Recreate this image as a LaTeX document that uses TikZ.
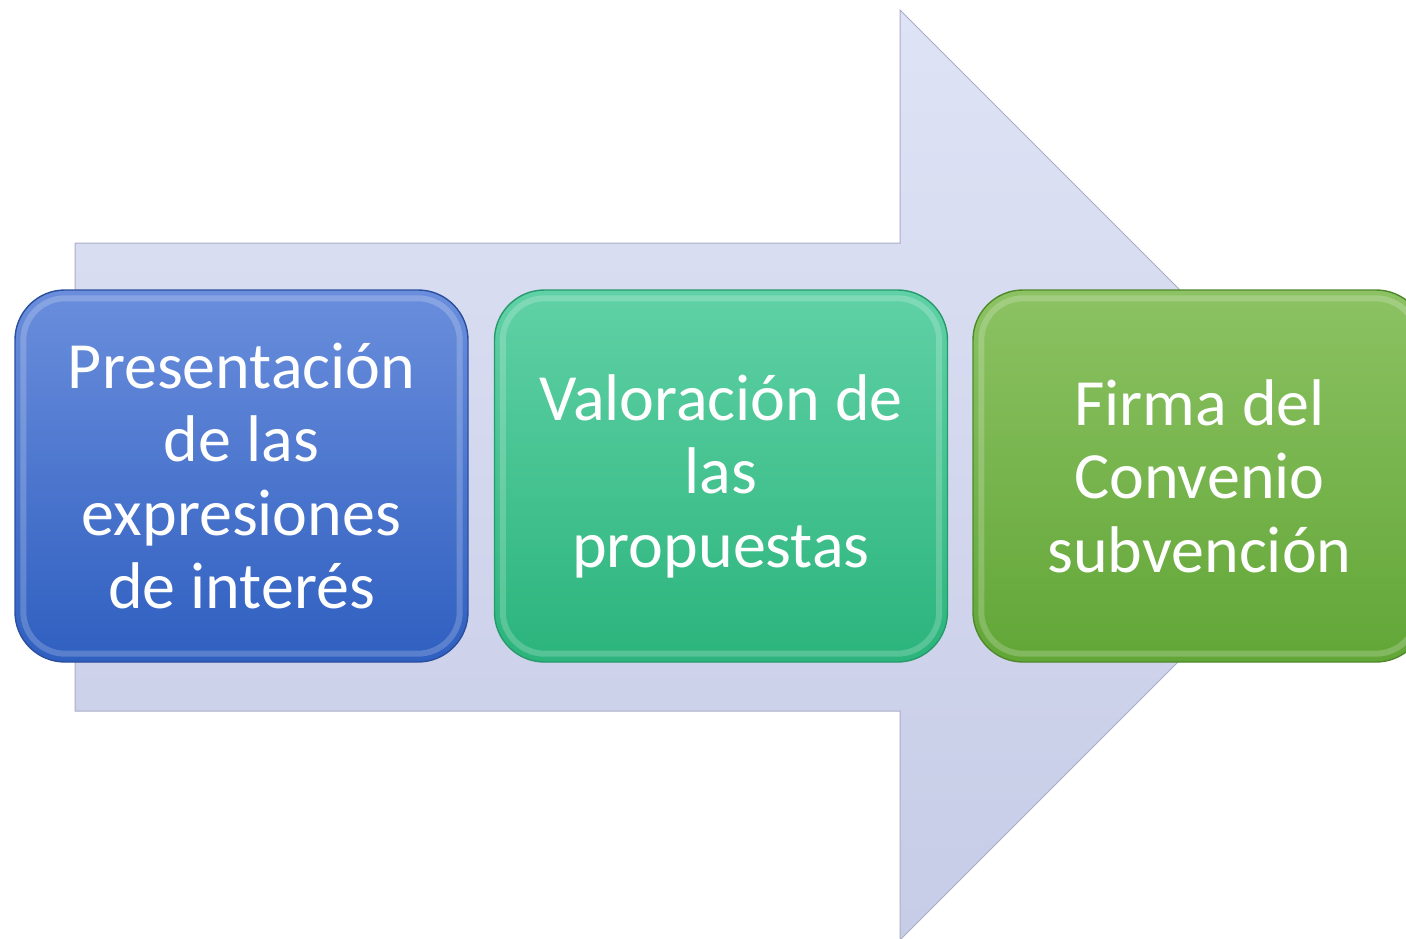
\documentclass[tikz,border=0pt]{standalone}
\usepackage{fontspec}
\setmainfont{Carlito}
\definecolor{arrtop}{HTML}{DEE3F5}
\definecolor{arrbot}{HTML}{C7CCE7}
\definecolor{arredge}{HTML}{A9AEC6}
\definecolor{bluetop}{HTML}{6A8EDC}
\definecolor{bluebot}{HTML}{2F5FC0}
\definecolor{blueedge}{HTML}{2A4F9E}
\definecolor{tealtop}{HTML}{60D1A6}
\definecolor{tealbot}{HTML}{2BB47C}
\definecolor{tealedge}{HTML}{279A6C}
\definecolor{greentop}{HTML}{8CC263}
\definecolor{greenbot}{HTML}{62A637}
\definecolor{greenedge}{HTML}{4E8A2B}
\begin{document}
\begin{tikzpicture}[x=1pt,y=-1pt,
  stepbox/.style={rounded corners=50pt, minimum width=453pt, minimum height=372pt,
    inner sep=0pt, line width=1.4pt, text=white, align=center,
    font=\fontsize{66}{73.5}\selectfont},
  bluebox/.style={top color=bluetop, bottom color=bluebot, draw=blueedge},
  tealbox/.style={top color=tealtop, bottom color=tealbot, draw=tealedge},
  greenbox/.style={top color=greentop, bottom color=greenbot, draw=greenedge},
  bevel/.style={white, opacity=0.2, line width=6pt, rounded corners=42pt},
  arrowshape/.style={top color=arrtop, bottom color=arrbot, draw=arredge, line width=1pt}
]
\useasboundingbox (0,0) rectangle (1406,939);
\clip (0,0) rectangle (1406,939);
% big background arrow
\path[arrowshape] (75,243) -- (900,243) -- (900,10) -- (1365,475) -- (900,940)
  -- (900,711) -- (75,711) -- cycle;
% boxes
\node[stepbox, bluebox] (b1) at (241.5,476) {Presentación\\de las\\expresiones\\de interés};
\draw[bevel] ([shift={(9pt,-9pt)}]b1.north west) rectangle ([shift={(-9pt,9pt)}]b1.south east);
\node[stepbox, tealbox] (b2) at (721,476) {Valoración de\\las\\propuestas};
\draw[bevel] ([shift={(9pt,-9pt)}]b2.north west) rectangle ([shift={(-9pt,9pt)}]b2.south east);
\node[stepbox, greenbox] (b3) at (1199.5,476) {Firma del\\Convenio\\subvención};
\draw[bevel] ([shift={(9pt,-9pt)}]b3.north west) rectangle ([shift={(-9pt,9pt)}]b3.south east);
\end{tikzpicture}
\end{document}
